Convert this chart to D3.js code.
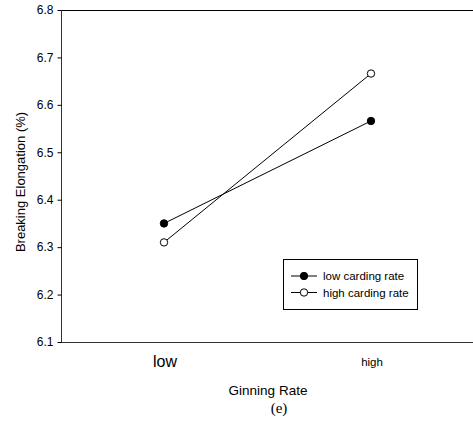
<!DOCTYPE html>
<html><head><meta charset="utf-8">
<script src="https://cdn.jsdelivr.net/npm/d3@7"></script>
<style>body{margin:0;background:#fff}svg{display:block}text{font-family:"Liberation Sans",Arial,sans-serif}</style>
</head><body><svg id="c" width="473" height="426"></svg>
<script>
const categories = ["low", "high"];
const seriesNames = ["low carding rate", "high carding rate"];
const lowCarding = [6.35, 6.566];
const highCarding = [6.31, 6.666];
const yTicks = [6.1, 6.2, 6.3, 6.4, 6.5, 6.6, 6.7, 6.8];

const svg = d3.select("#c");
const L = 61, T = 10, R = 473, B = 342;
const y = d3.scaleLinear().domain([6.1, 6.8]).range([B, T]);
const x = d3.scalePoint().domain(categories).range([164, 371]);

// frame lines
svg.append("line").attr("x1", L).attr("x2", R).attr("y1", T + 0.5).attr("y2", T + 0.5).attr("stroke", "#000");
svg.append("line").attr("x1", L).attr("x2", R).attr("y1", B + 0.5).attr("y2", B + 0.5).attr("stroke", "#333");

const yAxis = svg.append("g").attr("transform", `translate(${L + 0.5},0)`)
  .call(d3.axisLeft(y).tickValues(yTicks).tickFormat(d3.format(".1f")).tickSize(4).tickPadding(4));
yAxis.select(".domain").attr("stroke", "#333").attr("d", `M0,${T}V${B}`);
yAxis.selectAll("text").attr("font-size", 12).attr("fill", "#000").attr("font-family", "'Liberation Sans',Arial,sans-serif");
yAxis.selectAll(".tick line").attr("stroke", "#000");

// category labels
svg.selectAll(".cat").data(categories).enter().append("text")
  .attr("x", d => x(d) + 1).attr("y", (d, i) => i === 0 ? 367 : 366)
  .attr("text-anchor", "middle").attr("font-size", (d, i) => i === 0 ? 16 : 11.5)
  .text(d => d);

svg.append("text").attr("x", 268).attr("y", 395).attr("text-anchor", "middle").attr("font-size", 13.5).text("Ginning Rate");
svg.append("text").attr("x", 279).attr("y", 413).attr("text-anchor", "middle").attr("font-size", 15)
  .style("font-family", "'Liberation Serif','Times New Roman',serif").text("(e)");
svg.append("text").attr("transform", "translate(25,182) rotate(-90)").attr("text-anchor", "middle")
  .attr("font-size", 13).text("Breaking Elongation (%)");

const line = d3.line().x((d, i) => x(categories[i])).y(d => y(d));
const series = [
  {name: seriesNames[0], values: lowCarding, fill: "#000"},
  {name: seriesNames[1], values: highCarding, fill: "#fff"}
];
series.forEach(s => {
  svg.append("path").attr("d", line(s.values)).attr("fill", "none").attr("stroke", "#000").attr("stroke-width", 1);
});
series.forEach(s => {
  svg.selectAll(null).data(s.values).enter().append("circle")
    .attr("cx", (d, i) => x(categories[i])).attr("cy", d => y(d)).attr("r", 3.7)
    .attr("fill", s.fill).attr("stroke", "#000").attr("stroke-width", 1);
});

// legend
const lg = svg.append("g");
lg.append("rect").attr("x", 283.5).attr("y", 259.5).attr("width", 134).attr("height", 50)
  .attr("fill", "#fff").attr("stroke", "#000");
series.forEach((s, i) => {
  const ly = 276 + i * 16.5;
  lg.append("line").attr("x1", 291).attr("x2", 317).attr("y1", ly).attr("y2", ly).attr("stroke", "#000");
  lg.append("circle").attr("cx", 304).attr("cy", ly).attr("r", 3.7).attr("fill", s.fill).attr("stroke", "#000");
  lg.append("text").attr("x", 323).attr("y", ly + 4).attr("font-size", 11.5).text(s.name);
});
</script></body></html>
